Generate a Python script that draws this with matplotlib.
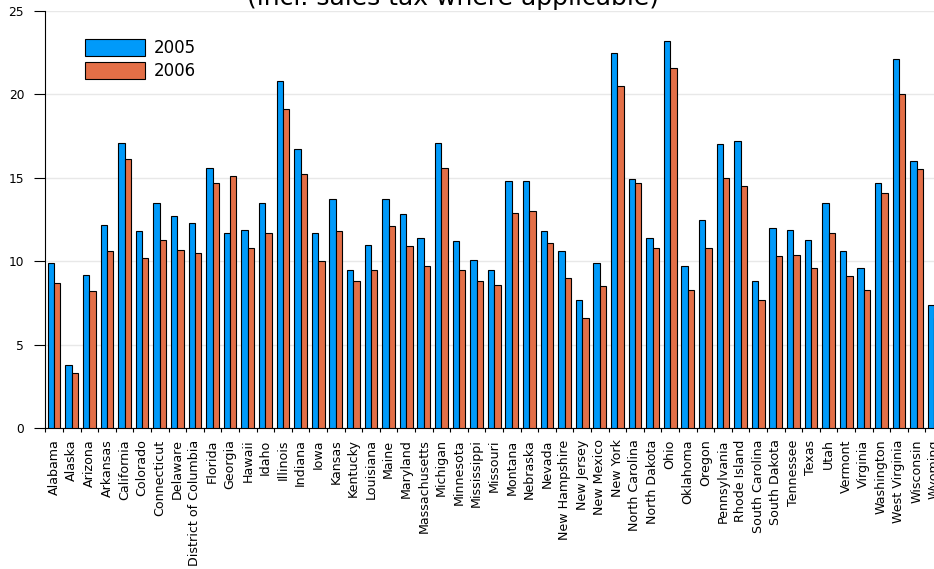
import numpy as np
import matplotlib
matplotlib.use("Agg")
import matplotlib.pyplot as plt

# Datos del grafico
estados = ["Alabama", "Alaska", "Arizona", "Arkansas", "California", "Colorado",
           "Connecticut", "Delaware", "District of Columbia", "Florida", "Georgia",
           "Hawaii", "Idaho", "Illinois", "Indiana", "Iowa", "Kansas", "Kentucky",
           "Louisiana", "Maine", "Maryland", "Massachusetts", "Michigan", "Minnesota",
           "Mississippi", "Missouri", "Montana", "Nebraska", "Nevada", "New Hampshire",
           "New Jersey", "New Mexico", "New York", "North Carolina", "North Dakota",
           "Ohio", "Oklahoma", "Oregon", "Pennsylvania", "Rhode Island",
           "South Carolina", "South Dakota", "Tennessee", "Texas", "Utah", "Vermont",
           "Virginia", "Washington", "West Virginia", "Wisconsin", "Wyoming"]

valores2005 = [9.9, 3.8, 9.2, 12.2, 17.1, 11.8, 13.5, 12.7, 12.3, 15.6, 11.7,
               11.9, 13.5, 20.8, 16.7, 11.7, 13.7, 9.5, 11.0, 13.7, 12.8, 11.4,
               17.1, 11.2, 10.1, 9.5, 14.8, 14.8, 11.8, 10.6, 7.7, 9.9, 22.5,
               14.9, 11.4, 23.2, 9.7, 12.5, 17.0, 17.2, 8.8, 12.0, 11.9, 11.3,
               13.5, 10.6, 9.6, 14.7, 22.1, 16.0, 7.4]

valores2006 = [8.7, 3.3, 8.2, 10.6, 16.1, 10.2, 11.3, 10.7, 10.5, 14.7, 15.1,
               10.8, 11.7, 19.1, 15.2, 10.0, 11.8, 8.8, 9.5, 12.1, 10.9, 9.7,
               15.6, 9.5, 8.8, 8.6, 12.9, 13.0, 11.1, 9.0, 6.6, 8.5, 20.5,
               14.7, 10.8, 21.6, 8.3, 10.8, 15.0, 14.5, 7.7, 10.3, 10.4, 9.6,
               11.7, 9.1, 8.3, 14.1, 20.0, 15.5, 6.6]

azul = "#009afa"
naranja = "#e36f47"

fig = plt.figure(figsize=(9.34, 5.69), dpi=100)

# El eje se sale por la derecha (Wyoming queda cortado como en la imagen)
ax = fig.add_axes([45 / 934, 141 / 569, 898 / 934, 417 / 569])

pos = np.arange(len(estados))
ancho = 0.36

ax.bar(pos - ancho / 2, valores2005, ancho, color=azul, edgecolor="black",
       linewidth=0.8, label="2005", zorder=3)
ax.bar(pos + ancho / 2, valores2006, ancho, color=naranja, edgecolor="black",
       linewidth=0.8, label="2006", zorder=3)

ax.set_xlim(-0.52, 50.5)
ax.set_ylim(0, 25)

# Etiquetas en el centro de cada grupo, marcas entre grupos
ax.set_xticks(pos)
ax.set_xticklabels(estados, rotation=90, fontsize=9.1)
ax.set_xticks(pos - 0.5, minor=True)
ax.tick_params(axis="x", which="major", length=0, pad=8.2)
ax.tick_params(axis="x", which="minor", length=3, width=0.8, direction="out")

ax.set_yticks([0, 5, 10, 15, 20, 25])
ax.tick_params(axis="y", length=8, width=0.8, pad=7, labelsize=8.8)

# Rejilla horizontal gris claro
ax.grid(axis="y", color="#e8e8e8", linewidth=1, zorder=0)
ax.set_axisbelow(True)

ax.spines["top"].set_visible(False)
ax.spines["right"].set_visible(False)
ax.spines["left"].set_linewidth(0.8)
ax.spines["bottom"].set_linewidth(0.8)

# Leyenda sin marco
fig.legend(loc="upper left", bbox_to_anchor=(85 / 934, 1 - 39 / 569),
           frameon=False, fontsize=12, borderpad=0, borderaxespad=0,
           handlelength=3.6, handleheight=1.14, handletextpad=0.54,
           labelspacing=0.3)

# Titulo (la primera linea queda fuera de la imagen)
fig.text(453 / 934, 1 - 5 / 569, "(incl. sales tax where applicable)",
         ha="center", va="baseline", fontsize=18)

fig.savefig("out.png", dpi=100)
